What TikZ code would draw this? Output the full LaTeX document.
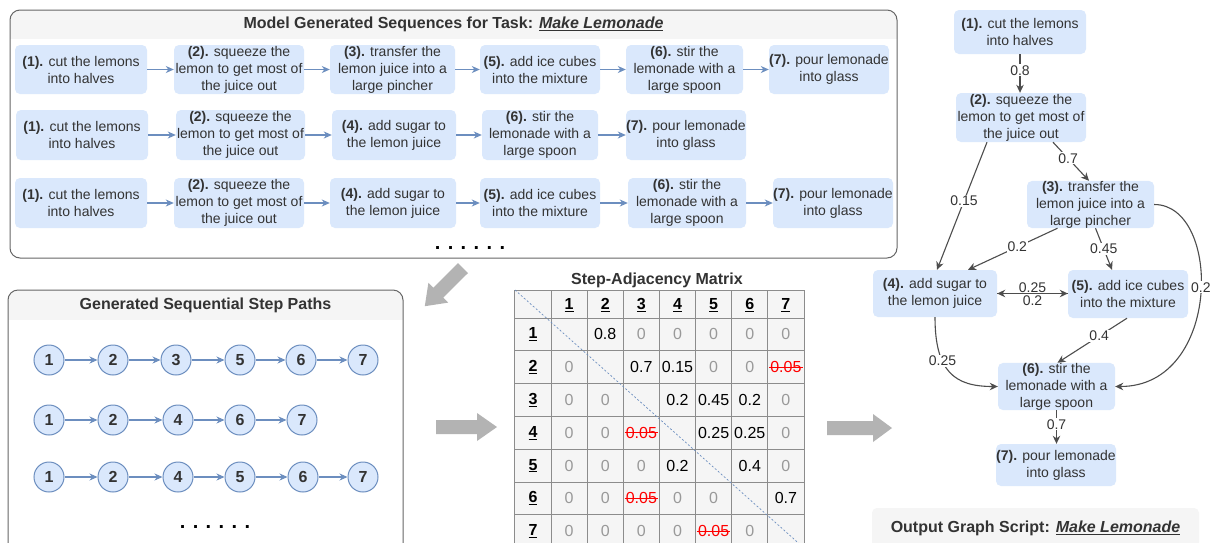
\documentclass[tikz,border=0pt]{standalone}
\usepackage{fontspec}
\setmainfont{Liberation Sans}
\usetikzlibrary{arrows.meta}
\definecolor{boxfill}{HTML}{DAE8FC}
\definecolor{boxline}{HTML}{6C8EBF}
\definecolor{txt}{HTML}{333333}
\definecolor{hdr}{HTML}{F5F5F5}
\definecolor{frame}{HTML}{666666}
\definecolor{edgec}{HTML}{4D4D4D}
\definecolor{garrow}{HTML}{B3B3B3}
\definecolor{zgray}{HTML}{999999}
\definecolor{gridc}{HTML}{8C8C8C}
\definecolor{strikered}{HTML}{FF0000}
\newcommand\fsz[2]{\fontsize{#1}{#2}\selectfont}
\newcommand\StepNode[6]{\node[bx, minimum width=#4, minimum height=#5] (#1) at (#2,#3) {#6};}
\newcommand\CellAt[4]{\node[#4] (m#1#2) at ({551+36.14*(#2-0.5)},{318+32.8*(#1-0.5)}) {#3};}
\begin{document}
\begin{tikzpicture}[x=1pt,y=-1pt,
  bx/.style={fill=boxfill, rounded corners=5pt, align=center, text=txt, inner sep=0pt, font=\fsz{14}{17}},
  barrow/.style={draw=boxline, line width=1.1pt, -{Stealth[length=8pt,width=7pt,inset=2.5pt]}},
  gedge/.style={draw=edgec, line width=1.1pt, -{Stealth[length=8pt,width=7.5pt,inset=2.5pt]}},
  elab/.style={fill=white, inner sep=1pt, text=txt, font=\fsz{14}{16}},
  circ/.style={circle, fill=boxfill, draw=boxline, line width=1pt, minimum size=30pt, inner sep=0pt, text=txt, font=\fsz{16}{18}\bfseries},
  frm/.style={draw=frame, line width=1pt, rounded corners=10pt},
  ttl/.style={text=txt, font=\fsz{16}{19}\bfseries, inner sep=0pt},
  dots/.style={font=\fsz{20}{22}\bfseries, inner sep=0pt},
  mz/.style={text=zgray, font=\fsz{16}{18}, inner sep=0pt},
  mv/.style={text=black, font=\fsz{16}{18}, inner sep=0pt},
  ms/.style={text=strikered, font=\fsz{16}{18}, inner sep=0pt},
  mh/.style={text=black, font=\fsz{16}{18}\bfseries, inner sep=0pt},
  garr/.style={fill=garrow, draw=none}
]
\useasboundingbox (0,0) rectangle (1213,542);
\clip (0,0) rectangle (1213,542);
\fill[white] (0,0) rectangle (1213,542);

% ---------------- top panel ----------------
\fill[white, rounded corners=10pt] (10,10) rectangle (897,258);
\begin{scope}
  \clip (0,0) rectangle (1213,38);
  \fill[hdr, rounded corners=10pt] (10,10) rectangle (897,258);
\end{scope}
\draw[frm] (10,10) rectangle (897,258);
\node[ttl] (t1) at (453.5,24) {Model Generated Sequences for Task: \underline{\textit{Make Lemonade}}};

% row 1
\StepNode{a1}{81}{69.5}{132}{49}{\textbf{(1).} cut the lemons\\into halves}
\StepNode{a2}{239}{69.5}{130}{49}{\textbf{(2).} squeeze the\\lemon to get most of\\the juice out}
\StepNode{a3}{392.5}{69.5}{125}{49}{\textbf{(3).} transfer the\\lemon juice into a\\large pincher}
\StepNode{a4}{540}{69.5}{120}{49}{\textbf{(5).} add ice cubes\\into the mixture}
\StepNode{a5}{684.5}{69.5}{117}{49}{\textbf{(6).} stir the\\lemonade with a\\large spoon}
\StepNode{a6}{829}{69.5}{120}{49}{\textbf{(7).} pour lemonade\\into glass}
\draw[barrow] (a1) -- (a2);
\draw[barrow] (a2) -- (a3);
\draw[barrow] (a3) -- (a4);
\draw[barrow] (a4) -- (a5);
\draw[barrow] (a5) -- (a6);

% row 2
\StepNode{b1}{82}{135}{132}{50}{\textbf{(1).} cut the lemons\\into halves}
\StepNode{b2}{240.5}{135}{129}{50}{\textbf{(2).} squeeze the\\lemon to get most of\\the juice out}
\StepNode{b3}{394}{135}{124}{50}{\textbf{(4).} add sugar to\\the lemon juice}
\StepNode{b4}{540}{135}{116}{50}{\textbf{(6).} stir the\\lemonade with a\\large spoon}
\StepNode{b5}{686}{135}{120}{50}{\textbf{(7).} pour lemonade\\into glass}
\draw[barrow] (b1) -- (b2);
\draw[barrow] (b2) -- (b3);
\draw[barrow] (b3) -- (b4);
\draw[barrow] (b4) -- (b5);

% row 3
\StepNode{c1}{81}{203}{132}{50}{\textbf{(1).} cut the lemons\\into halves}
\StepNode{c2}{239}{203}{130}{50}{\textbf{(2).} squeeze the\\lemon to get most of\\the juice out}
\StepNode{c3}{393}{203}{126}{50}{\textbf{(4).} add sugar to\\the lemon juice}
\StepNode{c4}{540}{203}{120}{50}{\textbf{(5).} add ice cubes\\into the mixture}
\StepNode{c5}{687}{203}{118}{50}{\textbf{(6).} stir the\\lemonade with a\\large spoon}
\StepNode{c6}{833}{203}{120}{50}{\textbf{(7).} pour lemonade\\into glass}
\draw[barrow] (c1) -- (c2);
\draw[barrow] (c2) -- (c3);
\draw[barrow] (c3) -- (c4);
\draw[barrow] (c4) -- (c5);
\draw[barrow] (c5) -- (c6);

\node[dots] (d1) at (470,248) {. . . . . .};

% ---------------- bottom-left panel ----------------
\fill[white, rounded corners=10pt] (8,290) rectangle (403,580);
\begin{scope}
  \clip (0,290) rectangle (420,319);
  \fill[hdr, rounded corners=10pt] (8,290) rectangle (403,580);
\end{scope}
\draw[frm] (8,290) rectangle (403,580);
\node[ttl] (t2) at (205.5,305) {Generated Sequential Step Paths};

\node[circ] (p11) at (49,360) {1};
\node[circ] (p12) at (113,360) {2};
\node[circ] (p13) at (176,360) {3};
\node[circ] (p14) at (240,360) {5};
\node[circ] (p15) at (301,360) {6};
\node[circ] (p16) at (363,360) {7};
\draw[barrow] (p11) -- (p12);
\draw[barrow] (p12) -- (p13);
\draw[barrow] (p13) -- (p14);
\draw[barrow] (p14) -- (p15);
\draw[barrow] (p15) -- (p16);

\node[circ] (p21) at (49,420) {1};
\node[circ] (p22) at (113,420) {2};
\node[circ] (p23) at (178,420) {4};
\node[circ] (p24) at (240,420) {6};
\node[circ] (p25) at (302,420) {7};
\draw[barrow] (p21) -- (p22);
\draw[barrow] (p22) -- (p23);
\draw[barrow] (p23) -- (p24);
\draw[barrow] (p24) -- (p25);

\node[circ] (p31) at (49,477) {1};
\node[circ] (p32) at (113,477) {2};
\node[circ] (p33) at (178,477) {4};
\node[circ] (p34) at (240,477) {5};
\node[circ] (p35) at (303,477) {6};
\node[circ] (p36) at (363,477) {7};
\draw[barrow] (p31) -- (p32);
\draw[barrow] (p32) -- (p33);
\draw[barrow] (p33) -- (p34);
\draw[barrow] (p34) -- (p35);
\draw[barrow] (p35) -- (p36);

\node[dots] (d2) at (215,527) {. . . . . .};

% ---------------- gray block arrows ----------------
\fill[garr] (468,273) -- (443.2,297.6) -- (448.2,302.6) -- (424.8,306.2) -- (428.4,282.8) -- (433.3,287.7) -- (458,263) -- cycle;
\fill[garr] (436,420) -- (477,420) -- (477,413) -- (497,427) -- (477,441) -- (477,434) -- (436,434) -- cycle;
\fill[garr] (827,421) -- (873,421) -- (873,414) -- (892,428) -- (873,442) -- (873,435) -- (827,435) -- cycle;

% ---------------- matrix ----------------
\node[ttl] (mt) at (657,280) {Step-Adjacency Matrix};
\fill[hdr] (515,290) rectangle (804,560);
\foreach \i in {0,...,8} {
  \draw[gridc, line width=0.9pt] ({551+36.14*(\i-1)},290) -- ({551+36.14*(\i-1)},560);
}
\draw[gridc, line width=0.9pt] (515,290) -- (804,290);
\foreach \i in {0,...,7} {
  \draw[gridc, line width=0.9pt] (515,{318+32.8*\i}) -- (804,{318+32.8*\i});
}
\draw[boxline, line width=0.7pt, dash pattern=on 2pt off 2pt] (515,290) -- (804,548);
\foreach \k in {1,...,7} {
  \node[mh] (hc\k) at ({551+36.14*(\k-0.5)},305) {\underline{\k}};
  \node[mh] (hr\k) at (533,{318+32.8*(\k-0.5)}) {\underline{\k}};
}
% row 1
\CellAt{1}{2}{0.8}{mv}
\CellAt{1}{3}{0}{mz}
\CellAt{1}{4}{0}{mz}
\CellAt{1}{5}{0}{mz}
\CellAt{1}{6}{0}{mz}
\CellAt{1}{7}{0}{mz}
% row 2
\CellAt{2}{1}{0}{mz}
\CellAt{2}{3}{0.7}{mv}
\CellAt{2}{4}{0.15}{mv}
\CellAt{2}{5}{0}{mz}
\CellAt{2}{6}{0}{mz}
\CellAt{2}{7}{0.05}{ms}
% row 3
\CellAt{3}{1}{0}{mz}
\CellAt{3}{2}{0}{mz}
\CellAt{3}{4}{0.2}{mv}
\CellAt{3}{5}{0.45}{mv}
\CellAt{3}{6}{0.2}{mv}
\CellAt{3}{7}{0}{mz}
% row 4
\CellAt{4}{1}{0}{mz}
\CellAt{4}{2}{0}{mz}
\CellAt{4}{3}{0.05}{ms}
\CellAt{4}{5}{0.25}{mv}
\CellAt{4}{6}{0.25}{mv}
\CellAt{4}{7}{0}{mz}
% row 5
\CellAt{5}{1}{0}{mz}
\CellAt{5}{2}{0}{mz}
\CellAt{5}{3}{0}{mz}
\CellAt{5}{4}{0.2}{mv}
\CellAt{5}{6}{0.4}{mv}
\CellAt{5}{7}{0}{mz}
% row 6
\CellAt{6}{1}{0}{mz}
\CellAt{6}{2}{0}{mz}
\CellAt{6}{3}{0.05}{ms}
\CellAt{6}{4}{0}{mz}
\CellAt{6}{5}{0}{mz}
\CellAt{6}{7}{0.7}{mv}
% row 7
\CellAt{7}{1}{0}{mz}
\CellAt{7}{2}{0}{mz}
\CellAt{7}{3}{0}{mz}
\CellAt{7}{4}{0}{mz}
\CellAt{7}{5}{0.05}{ms}
\CellAt{7}{6}{0}{mz}
\foreach \n in {m27,m43,m63,m75} {
  \draw[strikered, line width=1.1pt] ([xshift=-1pt]\n.west) -- ([xshift=1pt]\n.east);
}

% ---------------- right graph ----------------
\StepNode{g1}{1020}{32}{132}{44}{\textbf{(1).} cut the lemons\\into halves}
\StepNode{g2}{1021}{117.5}{130}{49}{\textbf{(2).} squeeze the\\lemon to get most of\\the juice out}
\StepNode{g3}{1090.5}{204.5}{127}{47}{\textbf{(3).} transfer the\\lemon juice into a\\large pincher}
\StepNode{g4}{935}{293.5}{124}{47}{\textbf{(4).} add sugar to\\the lemon juice}
\StepNode{g5}{1128}{294}{120}{48}{\textbf{(5).} add ice cubes\\into the mixture}
\StepNode{g6}{1056.5}{386.5}{117}{47}{\textbf{(6).} stir the\\lemonade with a\\large spoon}
\StepNode{g7}{1056}{465}{120}{42}{\textbf{(7).} pour lemonade\\into glass}

\draw[gedge] (g1.south) -- node[elab, pos=0.42] {0.8} (g1.south |- g2.north);
\draw[gedge] ([xshift=32pt]g2.south) -- node[elab, pos=0.42] {0.7} ([xshift=-1.5pt]g3.north);
\draw[gedge] ([xshift=-34pt]g2.south) -- node[elab, pos=0.46] {0.15} ([xshift=2pt]g4.north);
\draw[gedge] ([xshift=-33pt]g3.south) -- node[elab, pos=0.45] {0.2} ([xshift=33pt]g4.north);
\draw[gedge] ([xshift=5pt]g3.south) -- node[elab, pos=0.5] {0.45} ([xshift=-16pt]g5.north);
\draw[gedge] (g3.east) .. controls (1222,204.5) and (1222,386.5) .. node[elab, pos=0.47] {0.2} (g6.east);
\draw[gedge] (g4.east) -- node[elab, above=0.5pt, inner sep=0pt] {0.25} (g5.west |- g4.east);
\draw[gedge] (g5.west |- g4.east) -- node[elab, below=1.5pt, inner sep=0pt] {0.2} (g4.east);
\draw[gedge] ([xshift=-1pt]g5.south) -- node[elab, pos=0.4] {0.4} ([xshift=1pt]g6.north);
\draw[gedge] (g4.south) .. controls (935,372) and (955,386.5) .. node[elab, pos=0.35] {0.25} (g6.west);
\draw[gedge] (g6.south) -- node[elab, pos=0.42] {0.7} (g6.south |- g7.north);

% output box
\fill[hdr, rounded corners=5pt] (872,508) rectangle (1199,580);
\node[ttl] (t3) at (1035.5,528) {Output Graph Script: \underline{\textit{Make Lemonade}}};
\end{tikzpicture}
\end{document}
